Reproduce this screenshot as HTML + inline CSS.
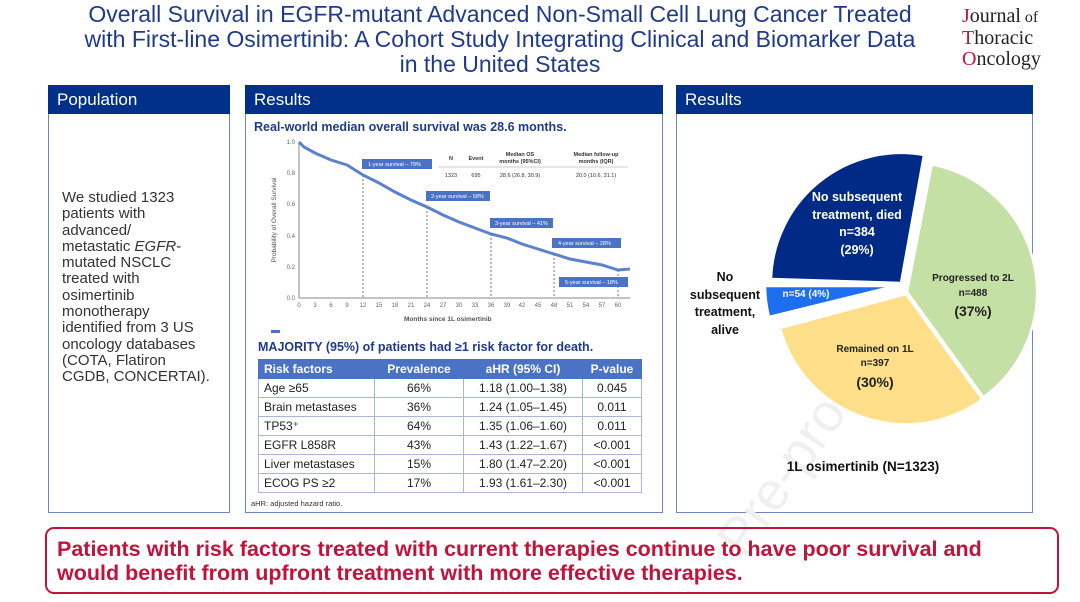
<!DOCTYPE html>
<html><head><meta charset="utf-8"><style>
body{margin:0;width:1080px;height:602px;background:#fff;font-family:"Liberation Sans",Arial,sans-serif;position:relative;overflow:hidden}
.abs{position:absolute}
.title{left:20px;top:2px;width:960px;text-align:center;color:#1f3a8a;font-size:23px;line-height:25px}
.hdr{background:#003087;color:#fff;font-size:17px;height:29px;line-height:29px;padding-left:9px;box-sizing:border-box}
.box{border:1px solid #6b86c4;box-sizing:border-box}
table{border-collapse:collapse;font-size:12px;color:#222}
td,th{border:1px solid #aab6d8;height:18px;padding:0 5px;white-space:nowrap}
th{background:#4a73c5;color:#fff;font-weight:bold;border-color:#4a73c5}
</style></head><body>
<div class="abs title">Overall Survival in EGFR-mutant Advanced Non-Small Cell Lung Cancer Treated<br>with First-line Osimertinib: A Cohort Study Integrating Clinical and Biomarker Data<br>in the United States</div>
<div class="abs" style="left:962px;top:6px;font-family:'Liberation Serif',serif;font-size:20px;line-height:21px;color:#222">
<span style="color:#c0143c">J</span>ournal<span style="font-size:16px"> of</span><br><span style="color:#c0143c">T</span>horacic<br><span style="color:#c0143c">O</span>ncology</div>

<div class="abs box" style="left:48px;top:85px;width:182px;height:428px"></div>
<div class="abs hdr" style="left:48px;top:85px;width:182px">Population</div>
<div class="abs" style="left:62px;top:190px;white-space:nowrap;font-size:15px;line-height:16.3px;color:#333">We studied 1323<br>patients with<br>advanced/<br>metastatic <i>EGFR</i>-<br>mutated NSCLC<br>treated with<br>osimertinib<br>monotherapy<br>identified from 3 US<br>oncology databases<br>(COTA, Flatiron<br>CGDB, CONCERTAI).</div>

<div class="abs box" style="left:245px;top:85px;width:418px;height:428px"></div>
<div class="abs hdr" style="left:245px;top:85px;width:418px">Results</div>
<div class="abs box" style="left:676px;top:85px;width:357px;height:428px"></div>
<div class="abs hdr" style="left:676px;top:85px;width:357px">Results</div>

<div class="abs" style="left:254px;top:120px;font-size:12.5px;font-weight:bold;color:#1f3a8a">Real-world median overall survival was 28.6 months.</div>

<svg class="abs" style="left:0;top:0" width="1080" height="602">
<text transform="translate(745,560) rotate(-55)" font-size="54" fill="#f0f0f0" font-family="Liberation Sans">Pre-proof</text>
<g font-size="6" fill="#666">
<line x1="299" y1="142" x2="299" y2="298" stroke="#888"/><line x1="299" y1="298" x2="630" y2="298" stroke="#888"/>
<text x="295" y="144" text-anchor="end">1.0</text><text x="295" y="175" text-anchor="end">0.8</text><text x="295" y="206" text-anchor="end">0.6</text><text x="295" y="238" text-anchor="end">0.4</text><text x="295" y="269" text-anchor="end">0.2</text><text x="295" y="300" text-anchor="end">0.0</text>
<g text-anchor="middle">
<text x="299" y="307">0</text><text x="315" y="307">3</text><text x="331" y="307">6</text><text x="347" y="307">9</text><text x="363" y="307">12</text><text x="379" y="307">15</text><text x="395" y="307">18</text><text x="411" y="307">21</text><text x="427" y="307">24</text><text x="443" y="307">27</text><text x="459" y="307">30</text><text x="475" y="307">33</text><text x="491" y="307">36</text><text x="507" y="307">39</text><text x="522" y="307">42</text><text x="538" y="307">45</text><text x="554" y="307">48</text><text x="570" y="307">51</text><text x="586" y="307">54</text><text x="602" y="307">57</text><text x="618" y="307">60</text>
</g>
<text x="404" y="321" font-size="6.5" font-weight="bold" fill="#555">Months since 1L osimertinib</text>
<text transform="translate(276,220) rotate(-90)" text-anchor="middle" font-size="6.5" fill="#555">Probability of Overall Survival</text>
</g>
<g stroke="#555" stroke-dasharray="2,2" stroke-width="0.8">
<line x1="363" y1="175" x2="363" y2="298"/><line x1="427" y1="207" x2="427" y2="298"/><line x1="491" y1="234" x2="491" y2="298"/><line x1="554" y1="254" x2="554" y2="298"/><line x1="618" y1="270" x2="618" y2="298"/>
</g>
<polyline fill="none" stroke="#5b82cc" stroke-width="3" points="299,142 304,147 315,153 331,160 347,165 363,175 379,183 395,192 411,200 427,207 443,215 459,222 475,228 491,234 507,238 522,244 538,249 554,254 570,259 586,262 602,265 618,270 630,269"/>
<g font-size="5.5" fill="#fff">
<rect x="362" y="159" width="70" height="10" fill="#4a73c5"/><text x="368" y="166">1-year survival – 79%</text>
<rect x="426" y="191" width="64" height="10" fill="#4a73c5"/><text x="431" y="198">2-year survival – 58%</text>
<rect x="490" y="218" width="63" height="10" fill="#4a73c5"/><text x="495" y="225">3-year survival – 41%</text>
<rect x="552" y="238" width="69" height="10" fill="#4a73c5"/><text x="558" y="245">4-year survival – 28%</text>
<rect x="559" y="277" width="69" height="10" fill="#4a73c5"/><text x="565" y="284">5-year survival – 18%</text>
</g>
<g font-size="5.5" fill="#333" text-anchor="middle">
<text x="451" y="160" font-weight="bold">N</text><text x="476" y="160" font-weight="bold">Event</text>
<text x="520" y="156" font-weight="bold">Median OS</text><text x="520" y="163" font-weight="bold">months (95%CI)</text>
<text x="596" y="156" font-weight="bold">Median follow-up</text><text x="596" y="163" font-weight="bold">months (IQR)</text>
<line x1="438" y1="167" x2="628" y2="167" stroke="#99a" stroke-width="0.6"/>
<text x="451" y="177">1323</text><text x="476" y="177">695</text><text x="520" y="177">28.6 (26.8, 30.9)</text><text x="596" y="177">20.0 (10.6, 31.1)</text>
</g>
<rect x="271" y="330" width="9" height="3" fill="#4a73c5"/>

<!-- pie -->
<g stroke="#fff" stroke-width="2.5">
<path d="M907,292 L931.8,164.4 A130,130 0 0 1 983.4,397.2 Z" fill="#c5e0a5"/>
<path d="M906,294 L982.4,399.2 A130,130 0 0 1 780,328 Z" fill="#fddf8a"/>
<path d="M895,286 L769,317 A130,130 0 0 1 765,286 Z" fill="#1e6ef0"/>
<path d="M901,283 L771,279 A130,130 0 0 1 924,155 Z" fill="#002a85"/>
</g>
<g font-weight="bold" text-anchor="middle" font-family="'Liberation Sans',sans-serif">
<g fill="#fff" font-size="12.5"><text x="857" y="201">No subsequent</text><text x="857" y="219">treatment, died</text><text x="857" y="236">n=384</text><text x="857" y="254">(29%)</text></g>
<text x="806" y="297" fill="#fff" font-size="10">n=54 (4%)</text>
<g fill="#222" font-size="10"><text x="973" y="281">Progressed to 2L</text><text x="973" y="296">n=488</text><text x="973" y="316" font-size="14">(37%)</text>
<text x="875" y="352">Remained on 1L</text><text x="875" y="366">n=397</text><text x="875" y="387" font-size="14">(30%)</text></g>
<g fill="#111" font-size="12.5"><text x="725" y="281">No</text><text x="725" y="299">subsequent</text><text x="725" y="316">treatment,</text><text x="725" y="334">alive</text>
<text x="863" y="471" font-size="13.5">1L osimertinib (N=1323)</text></g>
</g>
</svg>

<div class="abs" style="left:258px;top:340px;font-size:12.5px;font-weight:bold;color:#1f3a8a">MAJORITY (95%) of patients had ≥1 risk factor for death.</div>
<table class="abs" style="left:258px;top:359px;width:384px">
<tr><th style="text-align:left;width:105px">Risk factors</th><th style="width:78px">Prevalence</th><th style="width:108px">aHR (95% CI)</th><th>P-value</th></tr>
<tr><td>Age ≥65</td><td align="center">66%</td><td align="center">1.18 (1.00–1.38)</td><td align="center">0.045</td></tr>
<tr><td>Brain metastases</td><td align="center">36%</td><td align="center">1.24 (1.05–1.45)</td><td align="center">0.011</td></tr>
<tr><td>TP53⁺</td><td align="center">64%</td><td align="center">1.35 (1.06–1.60)</td><td align="center">0.011</td></tr>
<tr><td>EGFR L858R</td><td align="center">43%</td><td align="center">1.43 (1.22–1.67)</td><td align="center">&lt;0.001</td></tr>
<tr><td>Liver metastases</td><td align="center">15%</td><td align="center">1.80 (1.47–2.20)</td><td align="center">&lt;0.001</td></tr>
<tr><td>ECOG PS ≥2</td><td align="center">17%</td><td align="center">1.93 (1.61–2.30)</td><td align="center">&lt;0.001</td></tr>
</table>
<div class="abs" style="left:251px;top:499px;font-size:7.5px;color:#333">aHR: adjusted hazard ratio.</div>

<div class="abs" style="left:45px;top:527px;width:1014px;height:67px;border:2px solid #c0143c;border-radius:9px;box-sizing:border-box"></div>
<div class="abs" style="left:57px;top:537px;font-size:21.5px;line-height:24px;font-weight:bold;color:#c0143c">Patients with risk factors treated with current therapies continue to have poor survival and<br>would benefit from upfront treatment with more effective therapies.</div>
</body></html>
